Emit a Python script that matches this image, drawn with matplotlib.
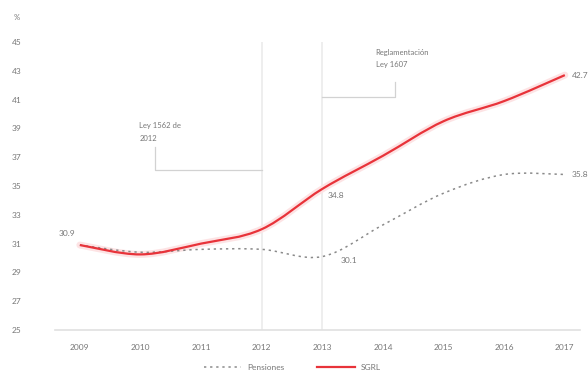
import numpy as np
import matplotlib.pyplot as plt
from matplotlib.path import Path
from matplotlib.patches import PathPatch
from matplotlib.lines import Line2D

plt.rcParams['font.family'] = ['Lato', 'DejaVu Sans']

# donnees
annees = [2009, 2010, 2011, 2012, 2013, 2014, 2015, 2016, 2017]
pensiones = [30.9, 30.4, 30.6, 30.6, 30.1, 32.3, 34.5, 35.8, 35.8]
sgrl = [30.9, 30.25, 31.0, 32.0, 34.8, 37.1, 39.5, 40.9, 42.7]
yticks = [25, 27, 29, 31, 33, 35, 37, 39, 41, 43, 45]

gris = '#8a8a8a'
texte = '#777777'
rouge = '#e8333a'


def courbe(x, y):
    # courbe lisse (catmull-rom -> bezier) passant par les points
    x = np.asarray(x, float)
    y = np.asarray(y, float)
    pts = np.column_stack([x, y])
    verts = [pts[0]]
    codes = [Path.MOVETO]
    for i in range(len(pts) - 1):
        p0 = pts[i - 1] if i > 0 else pts[i]
        p1 = pts[i]
        p2 = pts[i + 1]
        p3 = pts[i + 2] if i + 2 < len(pts) else pts[i + 1]
        c1 = p1 + (p2 - p0) / 6
        c2 = p2 - (p3 - p1) / 6
        verts += [c1, c2, p2]
        codes += [Path.CURVE4] * 3
    return Path(verts, codes)


fig = plt.figure(figsize=(5.88, 3.83), dpi=100)
ax = fig.add_axes([55 / 588, 53 / 383, 525 / 588, 288 / 383])
ax.set_xlim(2008.59, 2017.25)
ax.set_ylim(25, 45)

# lignes verticales 2012 / 2013
for xv in [2012, 2013]:
    ax.plot([xv, xv], [25, 45], color='#ebebeb', lw=1.2, zorder=1)

# courbes
p = courbe(annees, pensiones)
ax.add_patch(PathPatch(p, fill=False, edgecolor=gris, lw=1.1,
                       linestyle=(0, (1.5, 2.5)), zorder=3))
s = courbe(annees, sgrl)
ax.add_patch(PathPatch(s, fill=False, edgecolor='#fde3e4', lw=5, zorder=2,
                       capstyle='round'))
ax.add_patch(PathPatch(s, fill=False, edgecolor=rouge, lw=1.6, zorder=4))

# etiquettes de valeurs
fs = 6
ax.text(2009 - 0.08, sgrl[0] + 0.55, '30.9', fontsize=fs, color=texte, ha='right', va='bottom')
ax.text(2013 + 0.08, sgrl[4] - 0.2, '34.8', fontsize=fs, color=texte, ha='left', va='top')
ax.text(2013 + 0.3, pensiones[4] - 0.05, '30.1', fontsize=fs, color=texte, ha='left', va='top')
ax.text(2017 + 0.12, sgrl[-1], '42.7', fontsize=fs, color=texte, ha='left', va='center')
ax.text(2017 + 0.12, pensiones[-1], '35.8', fontsize=fs, color=texte, ha='left', va='center')

# annotations
ax.text(2009.98, 38.75, 'Ley 1562 de\n2012', fontsize=5.5, color=texte, ha='left', va='center',
        linespacing=1.9)
ax.plot([2010.24, 2010.24, 2012], [37.7, 36.1, 36.1], color='#d2d2d2', lw=0.9, zorder=1)
ax.text(2013.88, 43.85, 'Reglamentación\nLey 1607', fontsize=5.5, color=texte, ha='left', va='center',
        linespacing=1.9)
ax.plot([2013, 2014.2, 2014.2], [41.15, 41.15, 42.2], color='#d2d2d2', lw=0.9, zorder=1)

# axes
for sp in ['top', 'right', 'left']:
    ax.spines[sp].set_visible(False)
ax.spines['bottom'].set_color('#e0e0e0')
ax.spines['bottom'].set_linewidth(1.2)
ax.set_xticks(annees)
ax.set_xticklabels([str(a) for a in annees])
ax.set_yticks(yticks)
ax.tick_params(axis='both', length=0, labelsize=6, labelcolor=texte)
ax.tick_params(axis='x', pad=10)
for lab in ax.get_yticklabels():
    lab.set_horizontalalignment('left')
ax.yaxis.set_tick_params(pad=31)
fig.text(14 / 588, 1 - 18 / 383, '%', fontsize=5.5, color=texte, ha='left', va='center')

# legende
handles = [Line2D([], [], color=gris, lw=1.1, linestyle=(0, (1.5, 2.5))),
           Line2D([], [], color=rouge, lw=1.6)]
fig.legend(handles, ['Pensiones', 'SGRL'], loc='center', bbox_to_anchor=(0.497, 1 - 367 / 383),
           ncol=2, frameon=False, fontsize=6, labelcolor=texte, handlelength=4.5,
           columnspacing=4, handletextpad=0.7)

fig.savefig('out.png', dpi=100)
